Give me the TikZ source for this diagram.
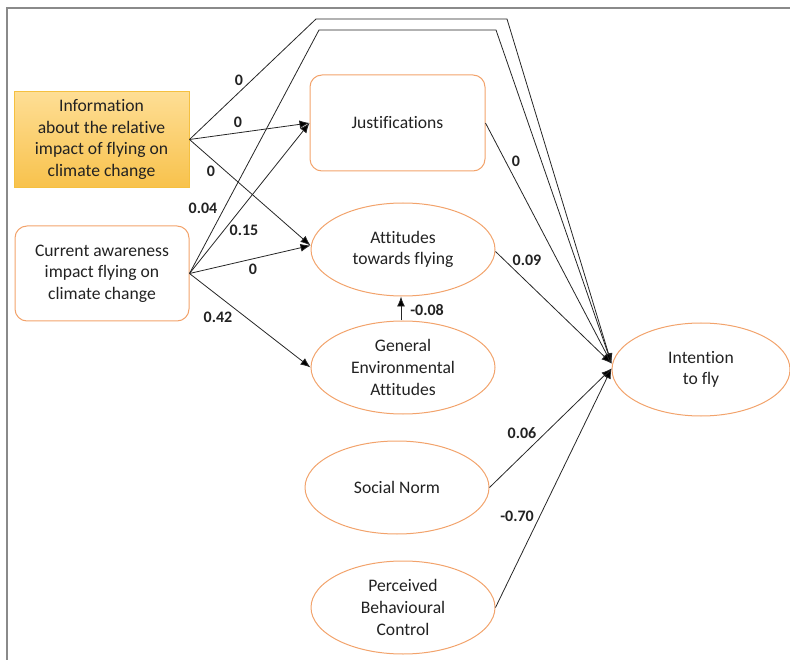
\documentclass[tikz,border=0pt]{standalone}
\usepackage{fontspec}
\setmainfont{Carlito}[Ligatures=NoCommon]
\usetikzlibrary{shapes.geometric,arrows.meta,calc}
\definecolor{edgeorange}{HTML}{F2A36C}
\definecolor{infoedge}{HTML}{F5C040}
\definecolor{infotop}{HTML}{FEDE95}
\definecolor{infobot}{HTML}{F8C24C}
\definecolor{framegray}{HTML}{8A8A8A}
\definecolor{inkgray}{HTML}{222222}
\tikzset{
  x=1pt, y=-1pt,
  every node/.style={font=\fontsize{17.6}{21.6}\selectfont, text=inkgray, align=center},
  roundbox/.style={draw=edgeorange, line width=1pt, rounded corners=12pt,
    minimum width=174pt, minimum height=95pt, inner sep=0pt},
  infobox/.style={draw=infoedge, line width=1pt, top color=infotop, bottom color=infobot,
    minimum width=175pt, minimum height=96pt, inner sep=0pt},
  oval/.style={ellipse, draw=edgeorange, line width=1pt,
    minimum width=184pt, minimum height=93pt, inner sep=0pt},
  path/.style={draw=black!85, line width=0.8pt},
  arr/.style={path, -{Latex[length=10pt,width=8pt,fill=black]}},
  coef/.style={font=\fontsize{16}{18}\selectfont\bfseries},
}
\begin{document}
\begin{tikzpicture}
\useasboundingbox (0,0) rectangle (790,660);

% open frame (top and left sides)
\draw[framegray, line width=1.5pt] (790,8) -- (7,8) -- (7,660);

% nodes
\node[infobox] (info) at (101.5,139.5) {Information\\about the relative\\impact of flying on\\climate change};
\node[roundbox] (aware) at (102,273.5) {Current awareness\\impact flying on\\climate change};
\node[roundbox, minimum width=175pt, minimum height=96pt] (just) at (397.5,123) {Justifications};
\node[oval] (att) at (403,249.5) {Attitudes\\towards flying};
\node[oval] (gen) at (403,367.5) {General\\Environmental\\Attitudes};
\node[oval] (soc) at (397,487.5) {Social Norm};
\node[oval] (pbc) at (403,607.5) {Perceived\\Behavioural\\Control};
\node[oval, minimum width=178pt] (int) at (701,369.5) {Intention\\to fly};

% bends of the two direct paths over the top
\coordinate (outA) at (316,19);
\coordinate (outB) at (507,19);
\coordinate (inA) at (319,30);
\coordinate (inB) at (496,30);
% arrival points on the intention node
\coordinate (tipU) at ($(int.west)+(0,-6)$);
\coordinate (tipL) at ($(int.west)+(0,-1)$);

% paths from information
\draw[arr] (info.east) -- (outA) -- (outB) -- (tipU);
\draw[arr] (info.east) -- (just.west);
\draw[arr] (info.east) -- ($(att.west)+(0,-4)$);

% paths from current awareness
\draw[arr] (aware.east) -- (inA) -- (inB) -- (tipU);
\draw[arr] (aware.east) -- (just.west);
\draw[arr] (aware.east) -- ($(att.west)+(0,-4)$);
\draw[arr] (aware.east) -- (gen.west);

% mediators to intention
\draw[arr] (just.east) -- (tipU);
\draw[arr] ($(att.east)+(0,2)$) -- (tipU);
\draw[arr] ([xshift=-2pt]gen.north) -- ([xshift=-2pt]att.south);
\draw[arr] (soc.east) -- (tipL);
\draw[arr] (pbc.east) -- (tipL);

% path coefficients
\node[coef] (c1) at (239,80) {0};
\node[coef] (c2) at (238,122) {0};
\node[coef] (c3) at (211,171) {0};
\node[coef] (c4) at (203,208) {0.04};
\node[coef] (c5) at (244,230) {0.15};
\node[coef] (c6) at (253,269) {0};
\node[coef] (c7) at (218,317) {0.42};
\node[coef] (c8) at (516,161) {0};
\node[coef] (c9) at (527,260) {0.09};
\node[coef] (c10) at (427,310) {-0.08};
\node[coef] (c11) at (522,433) {0.06};
\node[coef] (c12) at (517,516) {-0.70};
\end{tikzpicture}
\end{document}
